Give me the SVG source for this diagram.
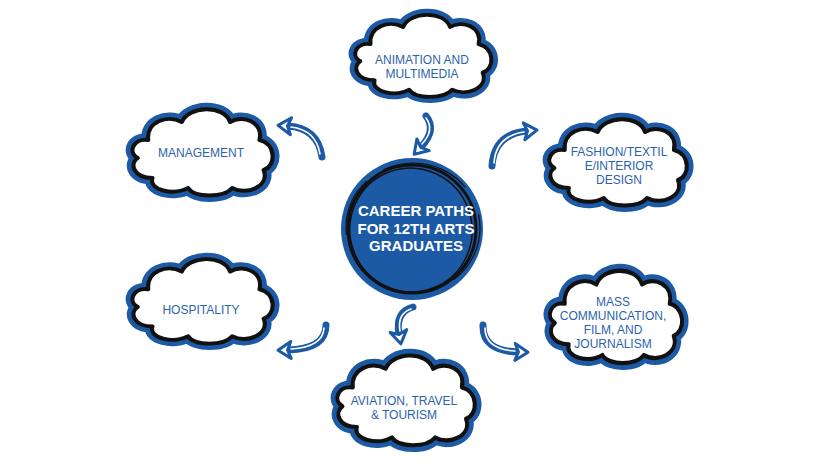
<svg xmlns="http://www.w3.org/2000/svg" xmlns:xlink="http://www.w3.org/1999/xlink" width="828" height="466" viewBox="0 0 828 466">
<style>
.cloud-out{fill:none;stroke:#1d5aa6;stroke-width:13;stroke-linejoin:round;vector-effect:non-scaling-stroke}
.cloud-in{fill:#fff;stroke:#111;stroke-width:4;stroke-linejoin:round;vector-effect:non-scaling-stroke}
.lbl{font-family:"Liberation Sans",Arial,sans-serif;font-size:12px;fill:#2b63ad;text-anchor:middle}
.ctr{font-family:"Liberation Sans",Arial,sans-serif;font-size:15px;font-weight:bold;fill:#fff;text-anchor:middle}
.shaft{fill:none;stroke:#1d5aa6;stroke-width:7;stroke-linecap:round}
.hl{fill:none;stroke:#fff;stroke-width:1.6;stroke-linecap:round}
.tip{fill:none;stroke:none;marker-end:url(#head)}
</style>
<defs>
<path id="cp" d="M 14,56 C 4,50 10,36 24,38 C 22,20 42,12 56,20 C 62,4 96,2 102,20 C 114,12 134,20 130,38 C 146,42 146,64 134,68 C 140,84 118,94 104,86 C 96,96 68,96 62,86 C 48,94 24,88 28,76 C 10,76 6,62 14,56 Z"/>
<g id="cloud">
<use xlink:href="#cp" href="#cp" class="cloud-out"/>
<use xlink:href="#cp" href="#cp" class="cloud-in"/>
</g>
<marker id="head" markerUnits="userSpaceOnUse" viewBox="0 0 20 20" refX="6" refY="10" markerWidth="20" markerHeight="20" orient="auto" overflow="visible">
<path d="M 16,10 L 3,1.5 L 6.5,10 L 3,18.5 Z" fill="#fff" stroke="#1d5aa6" stroke-width="3" stroke-linejoin="round"/>
</marker>
</defs>
<rect width="828" height="466" fill="#fff"/>

<g id="connectors">
<g id="a-anim">
<path class="shaft" d="M 426,116 Q 437,130 421,147"/>
<path class="hl" d="M 426,118 Q 435,130 422,144"/>
<path class="tip" d="M 426,116 Q 437,130 421,147"/>
</g>
<g id="a-mgmt">
<path class="shaft" d="M 322,157 Q 318,128 288,126"/>
<path class="hl" d="M 320,154 Q 316,130 291,127"/>
<path class="tip" d="M 322,157 Q 318,128 288,126"/>
</g>
<g id="a-fash">
<path class="shaft" d="M 492,166 Q 494,134 527,131"/>
<path class="hl" d="M 494,163 Q 496,136 524,132"/>
<path class="tip" d="M 492,166 Q 494,134 527,131"/>
</g>
<g id="a-hosp">
<path class="shaft" d="M 326,325 Q 326,349 288,350"/>
<path class="hl" d="M 324,328 Q 323,347 291,349"/>
<path class="tip" d="M 326,325 Q 326,349 288,350"/>
</g>
<g id="a-avia">
<path class="shaft" d="M 413,307 Q 395,312 399,334"/>
<path class="hl" d="M 411,309 Q 397,314 400,331"/>
<path class="tip" d="M 413,307 Q 395,312 399,334"/>
</g>
<g id="a-mass">
<path class="shaft" d="M 483,325 Q 482,351 518,352"/>
<path class="hl" d="M 485,328 Q 485,349 515,351"/>
<path class="tip" d="M 483,325 Q 482,351 518,352"/>
</g>
</g>

<g id="center">
<circle cx="412" cy="229" r="71" fill="#1d5aa6"/>
<circle cx="412" cy="229" r="64" fill="none" stroke="#111" stroke-width="3"/>
<ellipse cx="411" cy="230" rx="61" ry="62" fill="none" stroke="#111" stroke-width="1.5" transform="rotate(-20 411 230)"/>
<ellipse cx="413" cy="228" rx="67" ry="65" fill="none" stroke="#111" stroke-width="1.2" stroke-dasharray="60 20 90 30"/>
<text class="ctr" x="416" y="216">CAREER PATHS</text>
<text class="ctr" x="416" y="233.5">FOR 12TH ARTS</text>
<text class="ctr" x="416" y="251">GRADUATES</text>
</g>

<g id="n-animation">
<use xlink:href="#cloud" href="#cloud" transform="translate(346,8) scale(1.02,0.95)"/>
<text class="lbl" x="422" y="64">ANIMATION AND</text>
<text class="lbl" x="422" y="78">MULTIMEDIA</text>
</g>

<g id="n-fashion">
<use xlink:href="#cloud" href="#cloud" transform="translate(540,112) scale(1.03,1.0)"/>
<text class="lbl" x="619" y="156">FASHION/TEXTIL</text>
<text class="lbl" x="619" y="170">E/INTERIOR</text>
<text class="lbl" x="619" y="184">DESIGN</text>
</g>

<g id="n-mass">
<use xlink:href="#cloud" href="#cloud" transform="translate(541,263) scale(0.99,1.07)"/>
<text class="lbl" x="613" y="306">MASS</text>
<text class="lbl" x="613" y="320">COMMUNICATION,</text>
<text class="lbl" x="613" y="334">FILM, AND</text>
<text class="lbl" x="613" y="348">JOURNALISM</text>
</g>

<g id="n-management">
<use xlink:href="#cloud" href="#cloud" transform="translate(123,102) scale(1.05,1.0)"/>
<text class="lbl" x="201" y="157">MANAGEMENT</text>
</g>

<g id="n-hospitality">
<use xlink:href="#cloud" href="#cloud" transform="translate(123,252) scale(1.05,0.98)"/>
<text class="lbl" x="201" y="314">HOSPITALITY</text>
</g>

<g id="n-aviation">
<use xlink:href="#cloud" href="#cloud" transform="translate(328,348) scale(1.03,1.04)"/>
<text class="lbl" x="404" y="405">AVIATION, TRAVEL</text>
<text class="lbl" x="404" y="419">&amp; TOURISM</text>
</g>
</svg>
